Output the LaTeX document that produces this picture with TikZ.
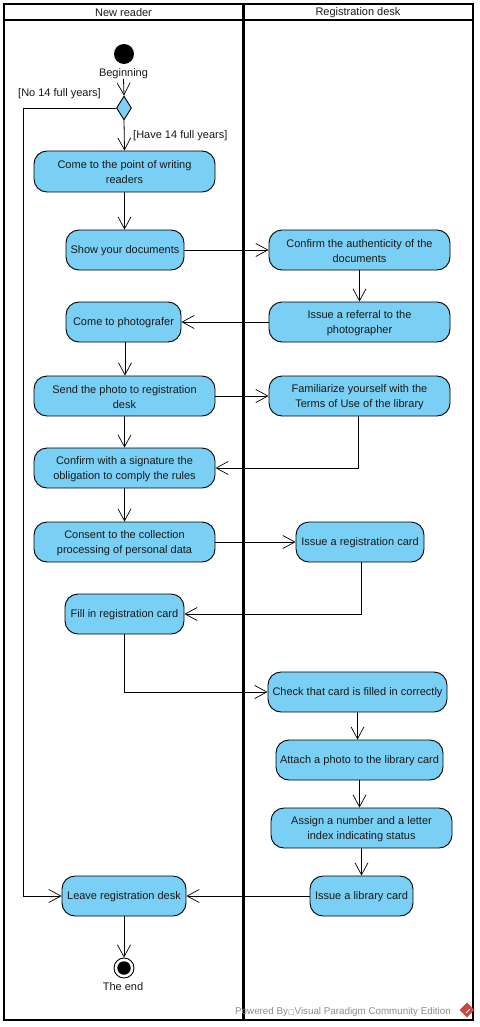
\documentclass[tikz,border=0pt]{standalone}
\usepackage{fontspec}
\setmainfont{Liberation Sans}
\newfontfamily\symfont{DejaVu Sans}
\usetikzlibrary{arrows.meta,shapes.geometric}
\definecolor{actblue}{RGB}{122,207,245}
\definecolor{wmgray}{RGB}{140,140,140}
\definecolor{wmred}{RGB}{205,70,60}
\tikzset{
  x=1pt,y=-1pt,
  act/.style={draw=black,line width=0.9pt,fill=actblue,rounded corners=13pt,inner sep=0pt},
  acttext/.style={align=center,font=\fontsize{11}{15}\selectfont,inner sep=0pt,text=black!90},
  lbl/.style={font=\fontsize{11}{12}\selectfont,inner sep=0pt,text=black!90},
  flow/.style={draw=black,line width=0.8pt,-{Straight Barb[length=12pt,width=13pt,line width=0.7pt]}},
  lane/.style={draw=black,line width=2pt},
}
\newcommand{\actnode}[6]{% name, l, t, r, b, text
  \node[act,minimum width={(#4-#2)*1pt},minimum height={(#5-#3)*1pt}] (#1) at ({(#2+#4)/2},{(#3+#5)/2}) {};
  \node[acttext] (#1text) at ({(#2+#4)/2},{(#3+#5)/2+1}) {#6};}
\begin{document}
\begin{tikzpicture}
\useasboundingbox (0,0) rectangle (479,1027);
\fill[white] (0,0) rectangle (479,1027);
% swimlanes
\draw[lane] (4,4) rectangle (473,1020);
\draw[lane] (4,20) -- (473,20);
\draw[lane,line width=3pt] (243,4) -- (243,1020);
\node[lbl] (laneA) at (123.5,13) {New reader};
\node[lbl] (laneB) at (358,13) {Registration desk};
% start / decision / end
\node[circle,fill=black,minimum size=20pt,inner sep=0pt] (start) at (124,54) {};
\node[lbl] (startlbl) at (123.5,73.5) {Beginning};
\node[diamond,draw=black,line width=0.9pt,fill=actblue,minimum width=15pt,minimum height=24pt,inner sep=0pt,aspect=0.6] (dec) at (124,108) {};
\node[lbl,anchor=west] (nolbl) at (18,93.5) {[No 14 full years]};
\node[lbl,anchor=west] (yeslbl) at (133,136) {[Have 14 full years]};
\node[circle,draw=black,line width=0.9pt,fill=white,minimum size=20pt,inner sep=0pt] (stop) at (124,968) {};
\node[circle,fill=black,minimum size=13.5pt,inner sep=0pt] (stopin) at (124,968) {};
\node[lbl] (stoplbl) at (123,987) {The end};
% actions
\actnode{come}{34}{151}{215}{192}{Come to the point of writing\\readers}
\actnode{show}{66}{230}{184}{270}{Show your documents}
\actnode{photo}{66}{302}{181}{342}{Come to photografer}
\actnode{send}{34}{376}{215}{416}{Send the photo to registration\\desk}
\actnode{sign}{34}{448}{215}{488}{Confirm with a signature the\\obligation to comply the rules}
\actnode{consent}{34}{522}{215}{562}{Consent to the collection\\processing of personal data}
\actnode{fill}{65}{594}{184}{634}{Fill in registration card}
\actnode{leave}{62}{876}{186}{916}{Leave registration desk}
\actnode{auth}{269}{230}{450}{270}{Confirm the authenticity of the\\documents}
\actnode{referral}{269}{302}{450}{342}{Issue a referral to the\\photographer}
\actnode{terms}{269}{376}{450}{416}{Familiarize yourself with the\\Terms of Use of the library}
\actnode{regcard}{296}{522}{424}{562}{Issue a registration card}
\actnode{check}{268}{672}{447}{712}{Check that card is filled in correctly}
\actnode{attach}{276}{740}{443}{780}{Attach a photo to the library card}
\actnode{assign}{271}{808}{452}{848}{Assign a number and a letter\\index indicating status}
\actnode{libcard}{310}{876}{413}{916}{Issue a library card}
% connectors
\coordinate (loop) at (23,108);
\draw[flow] (startlbl.south) -- (dec.north);
\draw[flow] (dec.south) -- (come.north);
\draw[flow] (dec.west) -- (loop) |- (leave.west);
\draw[flow] (come.south) -- (come.south |- show.north);
\draw[flow] (show.east) -- (auth.west);
\draw[flow] (auth.south) -- (referral.north);
\draw[flow] (referral.west) -- (photo.east);
\draw[flow] ([xshift=1.5pt]photo.south) -- ([xshift=1.5pt]photo.south |- send.north);
\draw[flow] (send.east) -- (terms.west);
\draw[flow] (send.south) -- (sign.north);
\draw[flow] ([xshift=-1.5pt]terms.south) |- (sign.east);
\draw[flow] (sign.south) -- (consent.north);
\draw[flow] (consent.east) -- (regcard.west);
\draw[flow] ([xshift=1pt]regcard.south) |- (fill.east);
\draw[flow] (fill.south) |- (check.west);
\draw[flow] (check.south) -- (check.south |- attach.north);
\draw[flow] (attach.south) -- (attach.south |- assign.north);
\draw[flow] (assign.south) -- (libcard.north);
\draw[flow] (libcard.west) -- (leave.east);
\draw[flow] (leave.south) -- (stop.north);
% watermark
\node[anchor=west,inner sep=0pt,text=wmgray,font=\fontsize{9.8}{12}\selectfont] (wm) at (235,1011.5) {Powered By{\symfont\fontsize{7}{8}\selectfont □}Visual Paradigm Community Edition};
\node[diamond,fill=wmred,minimum size=15pt,inner sep=0pt] (wmlogo) at (467,1010) {};
\draw[white,line width=1pt] ([xshift=-1pt,yshift=-3pt]wmlogo.center) -- ([xshift=3pt,yshift=1pt]wmlogo.center);
\end{tikzpicture}
\end{document}
